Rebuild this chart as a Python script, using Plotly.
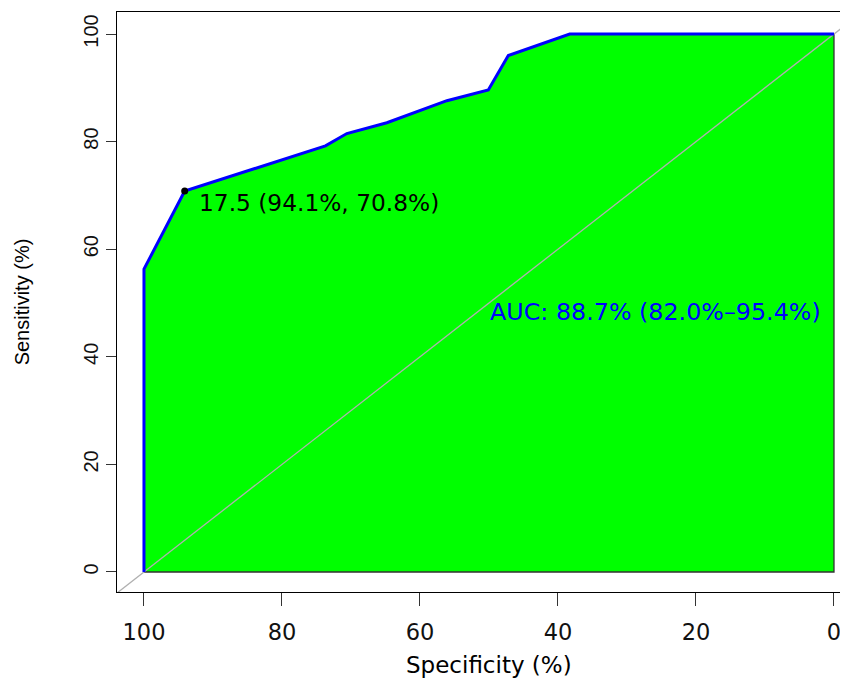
import plotly.graph_objects as go

# ROC curve (specificity %, sensitivity %)
specificity = [100, 100, 94.1, 73.7, 70.6, 64.8, 56.1, 50.1, 47.2, 38.3, 0]
sensitivity = [0, 56.3, 70.8, 79.2, 81.5, 83.5, 87.6, 89.6, 96.0, 100, 100]

best_threshold = 17.5
best_spec = 94.1
best_sens = 70.8

auc_text = "AUC: 88.7% (82.0%\u201395.4%)"
thres_text = "17.5 (94.1%, 70.8%)"
x_title = "Specificity (%)"
y_title = "Sensitivity (%)"

tick_vals = [0, 20, 40, 60, 80, 100]
tick_text = ["0", "20", "40", "60", "80", "100"]

diag_x = [110, -10]
diag_y = [-10, 110]

HFONT = "DejaVu Sans, Liberation Sans, Arial, sans-serif"
VFONT = "Liberation Sans, Arial, Helvetica, sans-serif"

fig = go.Figure()

# AUC polygon
poly_x = specificity + [0, 100]
poly_y = sensitivity + [0, 0]
fig.add_trace(go.Scatter(x=poly_x, y=poly_y, mode="lines", fill="toself",
                         fillcolor="#00FF00", line=dict(color="#333333", width=1.3),
                         hoverinfo="skip", showlegend=False))

# diagonal
fig.add_trace(go.Scatter(x=diag_x, y=diag_y, mode="lines",
                         line=dict(color="#B0B0B0", width=1.3),
                         hoverinfo="skip", showlegend=False))

# ROC curve
fig.add_trace(go.Scatter(x=specificity, y=sensitivity, mode="lines",
                         line=dict(color="#0000FF", width=3),
                         showlegend=False))

# best threshold point
fig.add_trace(go.Scatter(x=[best_spec], y=[best_sens], mode="markers",
                         marker=dict(color="black", size=7),
                         showlegend=False))

fig.add_annotation(x=92.3, y=68.6, text=thres_text, showarrow=False,
                   xanchor="left", yanchor="middle",
                   font=dict(family=HFONT, size=23.3, color="black"))
fig.add_annotation(x=50.1, y=48.3, text=auc_text, showarrow=False,
                   xanchor="left", yanchor="middle",
                   font=dict(family=HFONT, size=23.8, color="#0000FF"))

# x-axis title (centred on the full R plot region, which extends past the crop)
fig.add_annotation(x=0.509, y=-0.126, xref="paper", yref="paper", text=x_title,
                   showarrow=False, xanchor="center", yanchor="middle",
                   font=dict(family=HFONT, size=23, color="black"))

fig.update_layout(
    width=848, height=679,
    margin=dict(l=109, r=8, t=4, b=95),
    plot_bgcolor="white", paper_bgcolor="white",
    font=dict(family=HFONT, size=22, color="black"),
    xaxis=dict(range=[103.91, -2.03], tickvals=tick_vals, ticktext=tick_text,
               showgrid=False, zeroline=False, showline=True, linecolor="black",
               linewidth=1.3, mirror=True, ticks="outside", ticklen=13,
               tickcolor="#333333", tickwidth=1.3, ticklabelstandoff=7,
               tickfont=dict(family=HFONT, size=22.5, color="#111111")),
    yaxis=dict(range=[-3.72, 104.09], tickvals=tick_vals, ticktext=tick_text,
               showgrid=False, zeroline=False, showline=True, linecolor="black",
               linewidth=1.3, ticks="outside", ticklen=10,
               tickcolor="#333333", tickwidth=1.3, tickangle=-90,
               tickfont=dict(family=VFONT, size=20, color="#111111"),
               title=dict(text=y_title, font=dict(family=VFONT, size=20),
                          standoff=44)),
)

fig.write_html("out.html")
